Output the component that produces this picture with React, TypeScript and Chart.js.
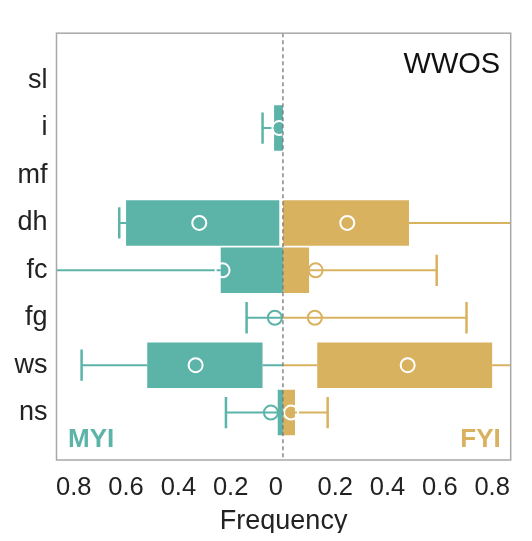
import React, { useEffect, useRef } from 'react';
import { Chart, registerables } from 'chart.js';

Chart.register(...registerables);

const CATEGORIES = ['sl', 'i', 'mf', 'dh', 'fc', 'fg', 'ws', 'ns'];
const X_TICKS = [-0.8, -0.6, -0.4, -0.2, 0, 0.2, 0.4, 0.6, 0.8];
const X_MIN = -0.866;
const X_MAX = 0.871;

// MYI (drawn to the left of zero), frequencies
const MYI_WHISKER_LOW = [null, 0, null, 0.014, 0, 0, 0, 0];
const MYI_Q1 = [null, 0, null, 0.014, 0, 0, 0.078, 0];
const MYI_Q3 = [null, 0.034, null, 0.6, 0.238, 0, 0.519, 0.02];
const MYI_WHISKER_HIGH = [null, 0.078, null, 0.626, 0.95, 0.139, 0.77, 0.218];
const MYI_MEAN = [null, 0.014, null, 0.32, 0.231, 0.031, 0.334, 0.046];

// FYI (drawn to the right of zero), frequencies
const FYI_WHISKER_LOW = [null, null, null, 0, 0, 0, 0, 0];
const FYI_Q1 = [null, null, null, 0, 0, 0, 0.131, 0];
const FYI_Q3 = [null, null, null, 0.482, 0.1, 0, 0.8, 0.046];
const FYI_WHISKER_HIGH = [null, null, null, 0.92, 0.588, 0.702, 0.93, 0.171];
const FYI_MEAN = [null, null, null, 0.246, 0.125, 0.122, 0.477, 0.031];

const TEAL = '#5cb4a9';
const GOLD = '#d9b260';
const FONT = '"Liberation Sans", Arial, Helvetica, sans-serif';

const Y_LABELS = ['', ...CATEGORIES, ''];

const SERIES = [
  { name: 'MYI', sign: -1, color: TEAL, lo: MYI_WHISKER_LOW, q1: MYI_Q1, q3: MYI_Q3, hi: MYI_WHISKER_HIGH, mean: MYI_MEAN },
  { name: 'FYI', sign: 1, color: GOLD, lo: FYI_WHISKER_LOW, q1: FYI_Q1, q3: FYI_Q3, hi: FYI_WHISKER_HIGH, mean: FYI_MEAN },
];

const barData = (s: any) => [
  null,
  ...CATEGORIES.map((_, i) => (s.q1[i] == null || s.q3[i] <= s.q1[i] ? null : [s.sign * s.q1[i], s.sign * s.q3[i]])),
  null,
];

const extrasPlugin = {
  id: 'boxExtras',
  afterDatasetsDraw(chart: any) {
    const { ctx, chartArea, scales } = chart;
    const x = scales.x;
    const y = scales.y;
    const step = y.getPixelForValue(1) - y.getPixelForValue(0);
    const capHalf = step * 0.33;
    ctx.save();
    ctx.beginPath();
    ctx.rect(chartArea.left, chartArea.top, chartArea.right - chartArea.left, chartArea.bottom - chartArea.top);
    ctx.clip();
    const line = (x1: number, y1: number, x2: number, y2: number) => {
      ctx.beginPath();
      ctx.moveTo(x1, y1);
      ctx.lineTo(x2, y2);
      ctx.stroke();
    };
    SERIES.forEach((s) => {
      CATEGORIES.forEach((_, i) => {
        if (s.q1[i] == null) return;
        const yc = y.getPixelForValue(i + 1);
        const px = (v: number) => x.getPixelForValue(s.sign * v);
        ctx.strokeStyle = s.color;
        ctx.lineWidth = 2;
        if (s.q1[i] > s.lo[i]) line(px(s.lo[i]), yc, px(s.q1[i]), yc);
        if (s.hi[i] > s.q3[i]) {
          line(px(s.q3[i]), yc, px(s.hi[i]), yc);
          ctx.lineWidth = 2.5;
          line(px(s.hi[i]), yc - capHalf, px(s.hi[i]), yc + capHalf);
        }
        const m = s.mean[i];
        const inside = s.q3[i] > s.q1[i] && m >= s.q1[i] && m <= s.q3[i];
        ctx.strokeStyle = inside ? '#ffffff' : s.color;
        ctx.lineWidth = 2;
        ctx.beginPath();
        ctx.arc(px(m), yc, 7, 0, Math.PI * 2);
        ctx.stroke();
      });
    });
    // dashed zero line
    const x0 = x.getPixelForValue(0);
    ctx.strokeStyle = '#777777';
    ctx.lineWidth = 1.3;
    ctx.setLineDash([4, 3]);
    line(x0, chartArea.top, x0, chartArea.bottom);
    ctx.setLineDash([]);
    ctx.restore();
  },
  afterDraw(chart: any) {
    const { ctx, chartArea } = chart;
    ctx.save();
    ctx.strokeStyle = '#a8a8a8';
    ctx.lineWidth = 1.5;
    ctx.strokeRect(chartArea.left, chartArea.top, chartArea.right - chartArea.left, chartArea.bottom - chartArea.top);
    ctx.textBaseline = 'alphabetic';
    ctx.font = `29px ${FONT}`;
    ctx.fillStyle = '#111';
    ctx.textAlign = 'right';
    ctx.fillText('WWOS', chartArea.right - 10.5, chartArea.top + 39.4);
    ctx.font = `bold 26px ${FONT}`;
    ctx.fillStyle = TEAL;
    ctx.textAlign = 'left';
    ctx.fillText('MYI', chartArea.left + 11.5, chartArea.bottom - 13.5);
    ctx.fillStyle = GOLD;
    ctx.textAlign = 'right';
    ctx.fillText('FYI', chartArea.right - 10, chartArea.bottom - 13.5);
    ctx.restore();
  },
};

export default function App() {
  const ref = useRef<HTMLCanvasElement>(null);
  useEffect(() => {
    if (!ref.current) return;
    const chart = new Chart(ref.current, {
      type: 'bar',
      data: {
        labels: Y_LABELS,
        datasets: SERIES.map((s) => ({
          label: s.name,
          data: barData(s) as any,
          backgroundColor: s.color,
          borderWidth: 0,
          grouped: false,
          categoryPercentage: 0.96,
          barPercentage: 1,
        })),
      },
      options: {
        indexAxis: 'y',
        animation: false,
        responsive: true,
        maintainAspectRatio: false,
        layout: { padding: { top: 19.3, right: 13.3, left: 0, bottom: 0 } },
        plugins: { legend: { display: false }, tooltip: { enabled: false } },
        scales: {
          x: {
            type: 'linear',
            min: X_MIN,
            max: X_MAX,
            grid: { display: false, drawTicks: false },
            border: { display: false },
            afterBuildTicks: (s: any) => {
              s.ticks = X_TICKS.map((v) => ({ value: v }));
            },
            ticks: {
              autoSkip: false,
              maxRotation: 0,
              padding: 13,
              color: '#222',
              font: { family: FONT, size: 25.5 },
              callback: (v: any) => (Number(v) === 0 ? '0  ' : Math.abs(Number(v)).toFixed(1)),
            },
            title: {
              display: true,
              text: 'Frequency',
              color: '#222',
              padding: { top: 0, bottom: 3.5 },
              font: { family: FONT, size: 27, lineHeight: 1.2 },
            },
            afterFit: (s: any) => {
              s.height = 81;
            },
          },
          y: {
            type: 'category',
            offset: false,
            grid: { display: false, drawTicks: false },
            border: { display: false },
            ticks: {
              autoSkip: false,
              padding: 9,
              color: '#222',
              font: { family: FONT, size: 27 },
            },
            afterFit: (s: any) => {
              s.width = 48.5;
            },
          },
        },
      } as any,
      plugins: [extrasPlugin],
    });
    return () => chart.destroy();
  }, []);
  return (
    <div style={{ width: 516, height: 533, marginBottom: -8, position: 'relative' }}>
      <canvas ref={ref} style={{ display: 'block' }} />
    </div>
  );
}
